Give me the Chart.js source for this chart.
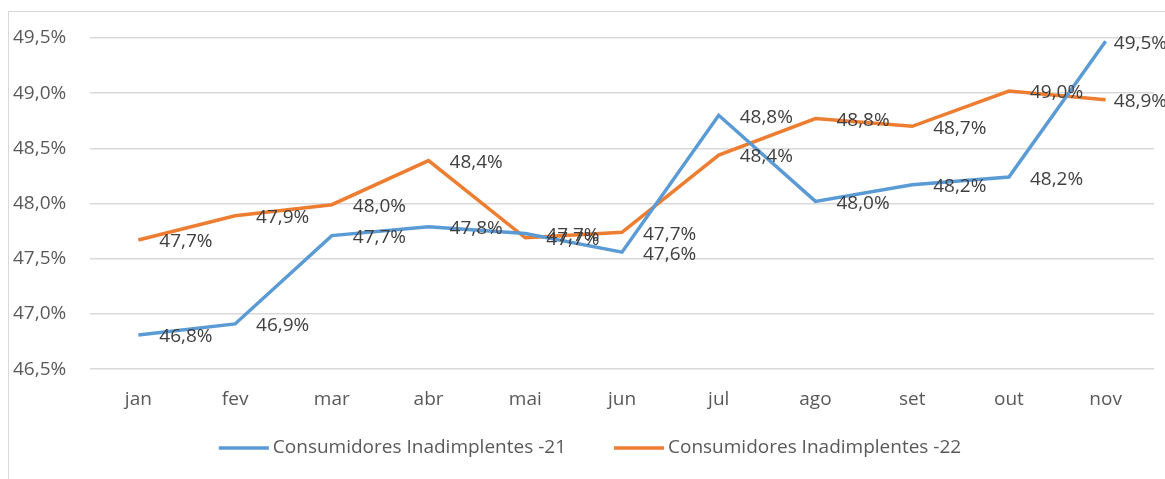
<!DOCTYPE html>
<html>
<head>
<meta charset="utf-8">
<script src="https://cdn.jsdelivr.net/npm/chart.js@4/dist/chart.umd.min.js"></script>
<style>
    body { margin: 0; background: #fff; }
    #frame { position: absolute; left: 8px; top: 11px; width: 1200px; height: 520px; border: 1px solid #d9d9d9; }
    #wrap { position: absolute; left: 0; top: 0; width: 1165px; height: 479px; }
</style>
</head>
<body>
<div id="frame"></div>
<div id="wrap"><canvas id="chart"></canvas></div>
<script>
"use strict";

const months = ["jan", "fev", "mar", "abr", "mai", "jun", "jul", "ago", "set", "out", "nov"];
const inadimplentes21 = [46.81, 46.91, 47.71, 47.79, 47.73, 47.56, 48.80, 48.02, 48.17, 48.24, 49.47];
const inadimplentes22 = [47.67, 47.89, 47.99, 48.39, 47.69, 47.74, 48.44, 48.77, 48.70, 49.02, 48.94];
const seriesNames = ["Consumidores Inadimplentes -21", "Consumidores Inadimplentes -22"];
const seriesColors = ["#5B9BD5", "#ED7D31"];

const fontFamily = "'Open Sans', sans-serif";
const fontSize = 19;

function pct(v) {
    return v.toFixed(1).replace(".", ",") + "%";
}

// labels to the right of each point, like the excel "right" position
const pointLabels = {
    id: "pointLabels",
    afterDatasetsDraw(chart) {
        let ctx = chart.ctx;
        ctx.save();
        ctx.font = fontSize + "px " + fontFamily;
        ctx.fillStyle = "#404040";
        ctx.textAlign = "left";
        ctx.textBaseline = "middle";
        chart.data.datasets.forEach((ds, i) => {
            chart.getDatasetMeta(i).data.forEach((pt, j) => {
                let text = pct(ds.data[j]);
                // excel pulls the last labels back so they stay inside
                let x = Math.min(pt.x + 21, chart.width - ctx.measureText(text).width + 2);
                ctx.fillText(text, x, pt.y + 2);
            });
        });
        ctx.restore();
    }
};

// legend drawn by hand so the gap between the two items can be wide
const bottomLegend = {
    id: "bottomLegend",
    afterDraw(chart) {
        let ctx = chart.ctx;
        ctx.save();
        ctx.font = fontSize + "px " + fontFamily;
        ctx.textBaseline = "middle";
        const lineW = 50, textGap = 4, itemGap = 48, y = 448;
        let widths = chart.data.datasets.map(ds => lineW + textGap + ctx.measureText(ds.label).width);
        let total = widths.reduce((a, b) => a + b, 0) + itemGap * (widths.length - 1);
        let x = 590 - total / 2;
        chart.data.datasets.forEach((ds, i) => {
            ctx.strokeStyle = ds.borderColor;
            ctx.lineWidth = 3.5;
            ctx.beginPath();
            ctx.moveTo(x, y);
            ctx.lineTo(x + lineW, y);
            ctx.stroke();
            ctx.fillStyle = "#595959";
            ctx.fillText(ds.label, x + lineW + textGap, y);
            x += widths[i] + itemGap;
        });
        ctx.restore();
    }
};

new Chart(document.getElementById("chart"), {
    type: "line",
    data: {
        labels: months,
        datasets: [inadimplentes21, inadimplentes22].map((values, i) => ({
            label: seriesNames[i],
            data: values,
            borderColor: seriesColors[i],
            backgroundColor: seriesColors[i],
            borderWidth: 3.5,
            pointRadius: 0,
            tension: 0
        }))
    },
    options: {
        responsive: true,
        maintainAspectRatio: false,
        animation: false,
        layout: { padding: { left: 13, right: 11, top: 38, bottom: 57 } },
        plugins: {
            tooltip: { enabled: false },
            legend: { display: false }
        },
        scales: {
            x: {
                offset: true,
                grid: { display: false },
                border: { display: false },
                ticks: { color: "#595959", padding: 11, font: { family: fontFamily, size: fontSize } }
            },
            y: {
                min: 46.5,
                max: 49.5,
                afterFit(scale) { scale.width = 77; },
                grid: { color: "#d9d9d9", lineWidth: 1.5, drawTicks: false },
                border: { display: false },
                ticks: {
                    stepSize: 0.5,
                    crossAlign: "far",
                    padding: 20,
                    color: "#595959",
                    font: { family: fontFamily, size: fontSize },
                    callback: v => pct(v)
                }
            }
        }
    },
    plugins: [pointLabels, bottomLegend]
});
</script>
</body>
</html>
